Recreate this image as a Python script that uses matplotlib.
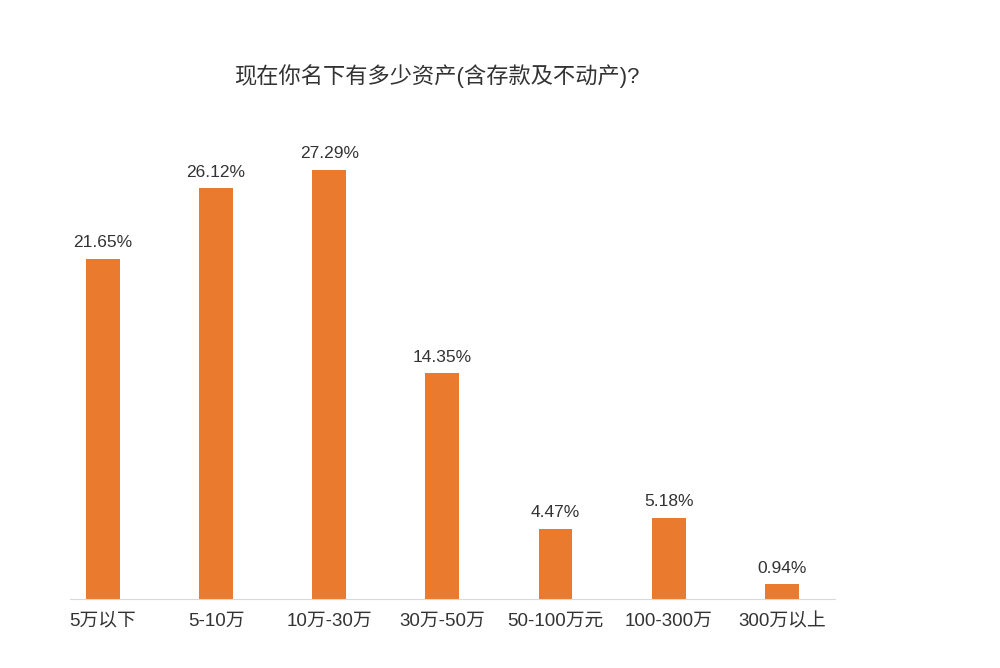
import numpy as np
import matplotlib.pyplot as plt

plt.rcParams['font.family'] = ['Liberation Sans', 'Noto Sans CJK SC', 'DejaVu Sans']

#%% Data
title = '现在你名下有多少资产(含存款及不动产)?'
categories = ['5万以下', '5-10万', '10万-30万', '30万-50万', '50-100万元', '100-300万', '300万以上']
values = [21.65, 26.12, 27.29, 14.35, 4.47, 5.18, 0.94]

#%% Plot
fig = plt.figure(figsize=(10, 6.68), dpi=100)
ax = fig.add_axes([0.07, 0.1033, 0.765, 0.706])

x = np.arange(len(categories))
ax.bar(x, values, width=0.30, color='#E97A2E')

for xi, v in zip(x, values):
    ax.text(xi, v + 0.55, f'{v:.2f}%', ha='center', va='bottom', fontsize=12.5, color='#333333')

ax.set_xlim(-0.29, 6.47)
ax.set_ylim(0, 30)
ax.set_xticks(x)
ax.set_xticklabels(categories, fontsize=13.5, color='#333333')
ax.tick_params(axis='x', length=0, pad=10)
ax.set_yticks([])
for s in ['top', 'right', 'left']:
    ax.spines[s].set_visible(False)
ax.spines['bottom'].set_color('#D9D9D9')

fig.text(0.437, 0.886, title, ha='center', va='center', fontsize=16, color='#333333')

plt.savefig('out.png', dpi=100)
